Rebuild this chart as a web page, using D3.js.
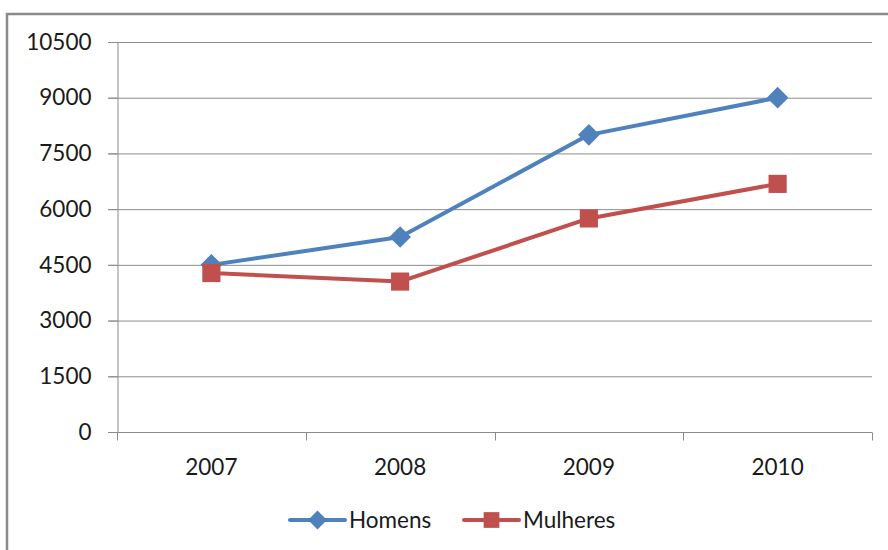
<!DOCTYPE html>
<html>
<head>
<meta charset="utf-8">
<script src="https://cdn.jsdelivr.net/npm/d3@7"></script>
<style>
  body { margin: 0; background: #fff; }
  svg { display: block; }
</style>
</head>
<body>
<svg id="chart"></svg>
<script>
// data
var years = ["2007", "2008", "2009", "2010"];
var homens = [4500, 5250, 8000, 9000];
var mulheres = [4280, 4050, 5750, 6680];
var yTicks = [0, 1500, 3000, 4500, 6000, 7500, 9000, 10500];

var width = 888, height = 550;
var svg = d3.select("#chart").attr("width", width).attr("height", height);

// outer chart border (runs off right / bottom edge)
svg.append("rect")
  .attr("x", 7).attr("y", 14)
  .attr("width", 900).attr("height", 600)
  .attr("fill", "none")
  .attr("stroke", "#8a8a8a")
  .attr("stroke-width", 2.5);

// plot area ("top" is reserved on window, so use own names)
var plotL = 117, plotR = 872, plotT = 42, plotB = 432;

var x = d3.scaleBand().domain(years).range([plotL, plotR]);
var y = d3.scaleLinear().domain([0, 10500]).range([plotB, plotT]);

var font = "Lato, 'Open Sans', sans-serif";
var fsize = "22.5px";

// gridlines
svg.append("g")
  .selectAll("line")
  .data(yTicks)
  .enter().append("line")
    .attr("x1", plotL - 9).attr("x2", plotR)
    .attr("y1", function(d) { return y(d) + 0.5; })
    .attr("y2", function(d) { return y(d) + 0.5; })
    .attr("stroke", "#8c8c8c")
    .attr("stroke-width", 1);

// y axis
var yAxis = svg.append("g")
  .attr("transform", "translate(" + (plotL + 0.5) + ",0)")
  .call(d3.axisLeft(y).tickValues(yTicks).tickSize(9).tickPadding(17).tickFormat(d3.format("d")));
yAxis.select(".domain").attr("stroke", "#8c8c8c");
yAxis.selectAll(".tick line").attr("stroke", "#8c8c8c");
yAxis.selectAll("text")
  .attr("fill", "#1a1a1a")
  .style("font-family", font)
  .style("font-size", fsize);

// x axis: ticks between categories
var xAxis = svg.append("g")
  .attr("transform", "translate(0," + (plotB + 0.5) + ")");
xAxis.append("line")
  .attr("x1", plotL).attr("x2", plotR)
  .attr("stroke", "#8c8c8c");
var bounds = years.map(function(d) { return x(d); }).concat([plotR]);
xAxis.selectAll(".btick")
  .data(bounds)
  .enter().append("line")
    .attr("class", "btick")
    .attr("x1", function(d) { return Math.round(d) + 0.5; })
    .attr("x2", function(d) { return Math.round(d) + 0.5; })
    .attr("y1", 0).attr("y2", 8)
    .attr("stroke", "#8c8c8c");
xAxis.selectAll("text")
  .data(years)
  .enter().append("text")
    .attr("x", function(d) { return x(d) + x.bandwidth() / 2; })
    .attr("y", 42)
    .attr("text-anchor", "middle")
    .attr("fill", "#1a1a1a")
    .style("font-family", font)
    .style("font-size", fsize)
    .text(function(d) { return d; });

var cx = function(d, i) { return x(years[i]) + x.bandwidth() / 2; };
var line = d3.line()
  .x(function(d, i) { return cx(d, i); })
  .y(function(d) { return y(d); });

var series = [
  { name: "Homens", values: homens, color: "#4f81bd", symbol: d3.symbolDiamond2, size: 300 },
  { name: "Mulheres", values: mulheres, color: "#c0504d", symbol: d3.symbolSquare2, size: 420 }
];

series.forEach(function(s) {
  svg.append("path")
    .datum(s.values)
    .attr("d", line)
    .attr("fill", "none")
    .attr("stroke", s.color)
    .attr("stroke-width", 4)
    .attr("stroke-linejoin", "round");
});

series.forEach(function(s) {
  svg.append("g")
    .selectAll("path")
    .data(s.values)
    .enter().append("path")
      .attr("transform", function(d, i) { return "translate(" + cx(d, i) + "," + y(d) + ")"; })
      .attr("d", d3.symbol().type(s.symbol).size(s.size))
      .attr("fill", s.color);
});

// legend
var legendPos = [290, 464];
var legend = svg.append("g").attr("transform", "translate(0,520)");
series.forEach(function(s, i) {
  var g = legend.append("g").attr("transform", "translate(" + legendPos[i] + ",0)");
  g.append("line")
    .attr("x1", 0).attr("x2", 55)
    .attr("stroke", s.color)
    .attr("stroke-width", 4)
    .attr("stroke-linecap", "round");
  g.append("path")
    .attr("transform", "translate(27.5,0)")
    .attr("d", d3.symbol().type(s.symbol).size(s.size * 0.75))
    .attr("fill", s.color);
  g.append("text")
    .attr("x", 59).attr("y", 8)
    .attr("fill", "#1a1a1a")
    .style("font-family", font)
    .style("font-size", fsize)
    .text(s.name);
});
</script>
</body>
</html>
